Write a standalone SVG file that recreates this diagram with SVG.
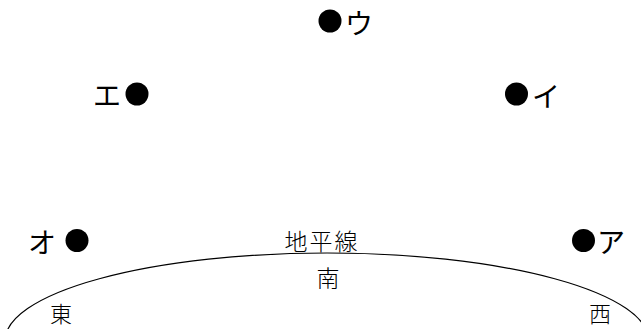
<svg xmlns="http://www.w3.org/2000/svg" width="641" height="329" viewBox="0 0 641 329">
<style>
.dot{fill:#000}
.kana{font-family:"Noto Sans CJK JP","Noto Sans",sans-serif;font-size:28px;font-weight:400;fill:#000;dominant-baseline:central}
.kanji{font-family:"Noto Sans CJK JP",sans-serif;font-size:23px;font-weight:300;fill:#000;dominant-baseline:central;text-anchor:middle}
.corner{font-size:22px}
.horizon{fill:none;stroke:#000;stroke-width:1.2}
</style>
<rect width="641" height="329" fill="#fff"/>
<g id="connectors">
<ellipse class="horizon" cx="327" cy="341" rx="322" ry="88"/>
</g>
<g id="node-u"><circle class="dot" cx="330" cy="21" r="11.5"/><text class="kana" x="345" y="22">ウ</text></g>
<g id="node-e"><circle class="dot" cx="137" cy="94" r="11.5"/><text class="kana" x="93" y="94">エ</text></g>
<g id="node-i"><circle class="dot" cx="516.5" cy="94" r="11.5"/><text class="kana" x="532" y="95">イ</text></g>
<g id="node-o"><circle class="dot" cx="77" cy="240.5" r="11.5"/><text class="kana" x="28" y="241">オ</text></g>
<g id="node-a"><circle class="dot" cx="583.5" cy="240.5" r="11.5"/><text class="kana" x="597" y="241">ア</text></g>
<g id="labels">
<text class="kanji" x="322" y="240" letter-spacing="2">地平線</text>
<text class="kanji" x="328" y="277">南</text>
<text class="kanji corner" x="61" y="312">東</text>
<text class="kanji corner" x="600" y="312">西</text>
</g>
</svg>
